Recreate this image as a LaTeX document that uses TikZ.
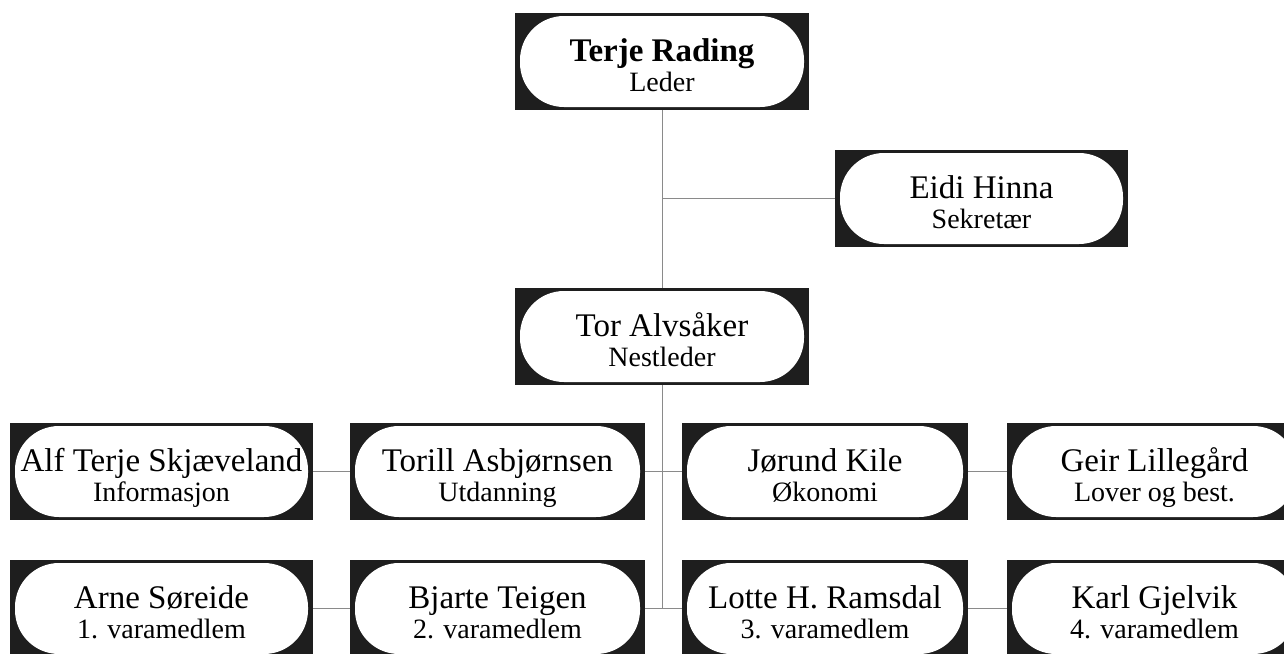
\documentclass[tikz,border=0pt]{standalone}
\usepackage{fontspec}
\setmainfont{Liberation Serif}
\usetikzlibrary{calc}
\definecolor{boxblack}{HTML}{1E1E1E}
\definecolor{linegray}{HTML}{8A8A8A}
\newcommand{\entry}[2]{\begin{minipage}[t]{284pt}\centering\fontsize{33}{30}\selectfont #1\par\fontsize{28}{30}\selectfont #2\par\end{minipage}}
\tikzset{
  member/.style={rectangle, fill=boxblack, minimum width=#1, minimum height=97pt,
    inner sep=0pt, text height=30pt, text depth=30pt,
    path picture={\fill[white, rounded corners=44pt]
      ($(path picture bounding box.south west)+(5pt,3pt)$) rectangle
      ($(path picture bounding box.north east)+(-5pt,-3pt)$);}},
  link/.style={draw=linegray, line width=1pt}
}
\begin{document}
\begin{tikzpicture}[x=1pt,y=1pt]
\useasboundingbox (0,0) rectangle (1284,-653);
\node[member=294pt] (leder) at (662,-61.5) {\entry{\textbf{Terje Rading}}{Leder}};
\node[member=293pt] (sekr) at (981.5,-198.5) {\entry{Eidi Hinna}{Sekretær}};
\node[member=294pt] (nest) at (662,-336.5) {\entry{Tor Alvsåker}{Nestleder}};
\node[member=303pt] (info) at (161.5,-471.5) {\entry{Alf Terje Skjæveland}{Informasjon}};
\node[member=295pt] (utd) at (497.5,-471.5) {\entry{Torill Asbjørnsen}{Utdanning}};
\node[member=286pt] (oko) at (825,-471.5) {\entry{Jørund Kile}{Økonomi}};
\node[member=295pt] (lover) at (1154.5,-471.5) {\entry{Geir Lillegård}{Lover og best.}};
\node[member=303pt] (v1) at (161.5,-608.5) {\entry{Arne Søreide}{1. varamedlem}};
\node[member=295pt] (v2) at (497.5,-608.5) {\entry{Bjarte Teigen}{2. varamedlem}};
\node[member=286pt] (v3) at (825,-608.5) {\entry{Lotte H. Ramsdal}{3. varamedlem}};
\node[member=295pt] (v4) at (1154.5,-608.5) {\entry{Karl Gjelvik}{4. varamedlem}};
\coordinate (trunkend) at ($(nest.south |- v3.west)$);
\draw[link] (leder.south) -- (nest.north);
\draw[link] (sekr.west) -- (sekr.west -| leder.south);
\draw[link] (nest.south) -- (trunkend);
\draw[link] (info.east) -- (utd.west);
\draw[link] (utd.east) -- (oko.west);
\draw[link] (oko.east) -- (lover.west);
\draw[link] (v1.east) -- (v2.west);
\draw[link] (v2.east) -- (v3.west);
\draw[link] (v3.east) -- (v4.west);
\end{tikzpicture}
\end{document}
